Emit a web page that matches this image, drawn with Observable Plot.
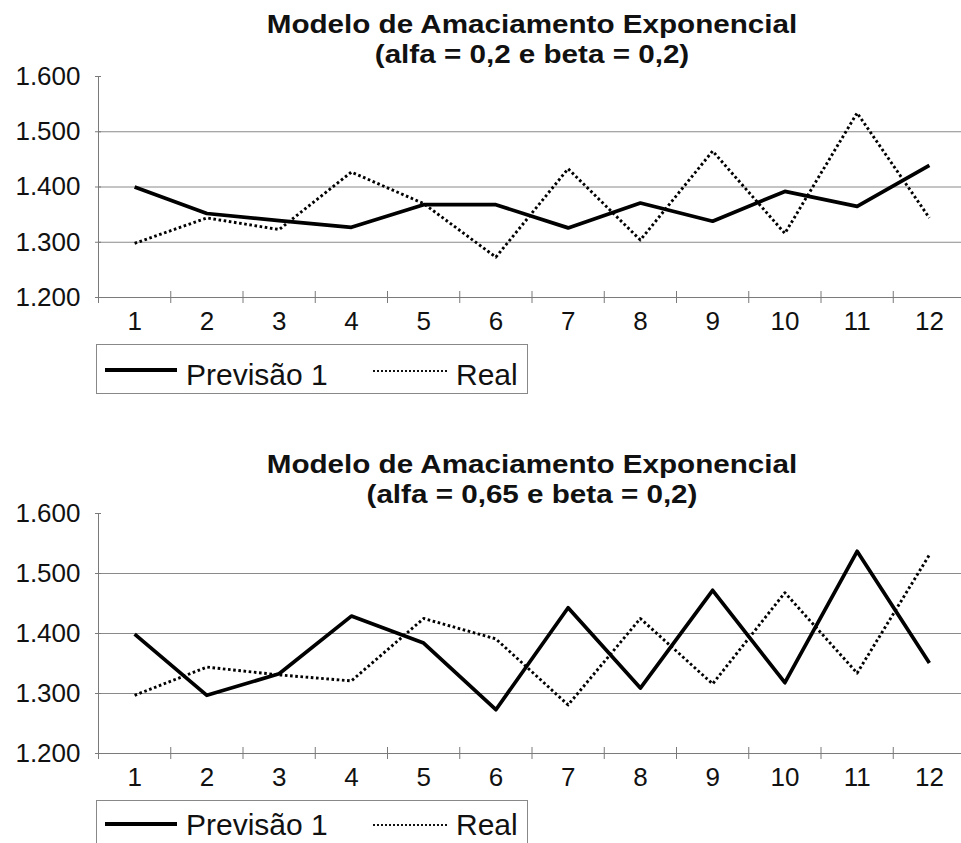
<!DOCTYPE html>
<html><head><meta charset="utf-8">
<script src="https://cdn.jsdelivr.net/npm/d3@7"></script>
<script src="https://cdn.jsdelivr.net/npm/@observablehq/plot@0.6"></script>
<style>
body{margin:0;background:#fff;overflow:hidden}
#page{position:relative;width:961px;height:843px;overflow:hidden;background:#fff}
#page > svg{position:absolute;left:0}
</style>
</head><body><div id="page"></div>
<script>
// ---- data ----
const months = [1, 2, 3, 4, 5, 6, 7, 8, 9, 10, 11, 12];
const prev1 = [1.400, 1.352, 1.339, 1.327, 1.368, 1.368, 1.326, 1.371, 1.338, 1.392, 1.365, 1.439];
const real1 = [1.298, 1.344, 1.323, 1.427, 1.370, 1.273, 1.433, 1.304, 1.465, 1.316, 1.534, 1.344];
const prev2 = [1.399, 1.297, 1.333, 1.429, 1.384, 1.273, 1.443, 1.309, 1.472, 1.318, 1.537, 1.351];
const real2 = [1.297, 1.344, 1.331, 1.321, 1.425, 1.391, 1.281, 1.425, 1.316, 1.468, 1.334, 1.531];
const yTicks = [1.2, 1.3, 1.4, 1.5, 1.6];
const yLabels = ["1.200", "1.300", "1.400", "1.500", "1.600"];
const gridValues = [1.3, 1.4, 1.5];
const xBoundaries = [0.5, 1.5, 2.5, 3.5, 4.5, 5.5, 6.5, 7.5, 8.5, 9.5, 10.5, 11.5, 12.5];
const titleLine1 = "Modelo de Amaciamento Exponencial";
const subtitles = ["(alfa = 0,2 e beta = 0,2)", "(alfa = 0,65 e beta = 0,2)"];
const seriesNames = ["Previsão 1", "Real"];

const FONT = "'Liberation Sans', Arial, Helvetica, sans-serif";
const AXIS = "#7a7a7a", GRID = "#8a8a8a", TEXT = "#111";

function makeChart(prev, real, height, marginBottom) {
  const rows = months.map((m, i) => ({m, prev: prev[i], real: real[i]}));
  return Plot.plot({
    width: 961, height, marginTop: 76, marginBottom, marginLeft: 98, marginRight: 0,
    x: {domain: [0.5, 12.5], range: [98, 965]},
    y: {domain: [1.2, 1.6]},
    style: {fontFamily: FONT, background: "transparent", color: TEXT, overflow: "visible"},
    marks: [
      Plot.ruleY(gridValues, {stroke: GRID}),
      Plot.ruleY([1.2], {stroke: AXIS}),
      Plot.ruleX([0.5], {y1: 1.2, y2: 1.6, stroke: AXIS}),
      Plot.axisX(xBoundaries, {tickSize: 12, dy: -6, tickFormat: () => "", stroke: AXIS, label: null}),
      Plot.axisX(months, {tickSize: 0, tickPadding: 14, fontSize: 26, label: null}),
      Plot.axisY(yTicks, {tickSize: 6, dx: 3, tickFormat: () => "", stroke: AXIS, label: null}),
      Plot.axisY(yTicks, {tickSize: 0, tickPadding: 18, fontSize: 26, label: null,
        tickFormat: (d) => yLabels[yTicks.indexOf(d)]}),
      Plot.line(rows, {x: "m", y: "real", stroke: "#000", strokeWidth: 2.9,
        strokeDasharray: "2.6,2.6", strokeLinecap: "butt"}),
      Plot.line(rows, {x: "m", y: "prev", stroke: "#000", strokeWidth: 3.7, strokeLinecap: "butt"})
    ]
  });
}

const page = document.getElementById("page");
const c1 = makeChart(prev1, real1, 340, 43);
c1.style.top = "0px";
page.appendChild(c1);
const c2 = makeChart(prev2, real2, 360, 44);
c2.style.top = "437px";
page.appendChild(c2);

// overlay with titles and legends
const ov = d3.select(page).append("svg")
  .attr("width", 961).attr("height", 843)
  .style("top", "0px").style("pointer-events", "none")
  .style("font-family", FONT);

function addTitle(offset, sub) {
  const g = ov.append("g").attr("fill", TEXT).attr("font-weight", "bold")
    .attr("font-size", 26).attr("text-anchor", "middle");
  g.append("text").attr("transform", `translate(532,${33 + offset}) scale(1.14,1)`).text(titleLine1);
  g.append("text").attr("transform", `translate(532,${63 + offset}) scale(1.14,1)`).text(sub);
}
addTitle(0, subtitles[0]);
addTitle(440, subtitles[1]);

function addLegend(top, boxH, lineY, baseY) {
  const g = ov.append("g");
  g.append("rect").attr("x", 96.5).attr("y", top + 0.5).attr("width", 431).attr("height", boxH)
    .attr("fill", "#fff").attr("stroke", "#888");
  g.append("line").attr("x1", 105).attr("x2", 177).attr("y1", lineY).attr("y2", lineY)
    .attr("stroke", "#000").attr("stroke-width", 4);
  g.append("line").attr("x1", 373).attr("x2", 448).attr("y1", lineY + 1).attr("y2", lineY + 1)
    .attr("stroke", "#111").attr("stroke-width", 2).attr("stroke-dasharray", "2,2");
  g.append("text").attr("x", 186).attr("y", baseY).attr("font-size", 30).attr("fill", TEXT).text(seriesNames[0]);
  g.append("text").attr("x", 456).attr("y", baseY).attr("font-size", 30).attr("fill", TEXT).text(seriesNames[1]);
}
addLegend(344, 49, 370, 385);
addLegend(800, 80, 824, 835);
</script></body></html>
